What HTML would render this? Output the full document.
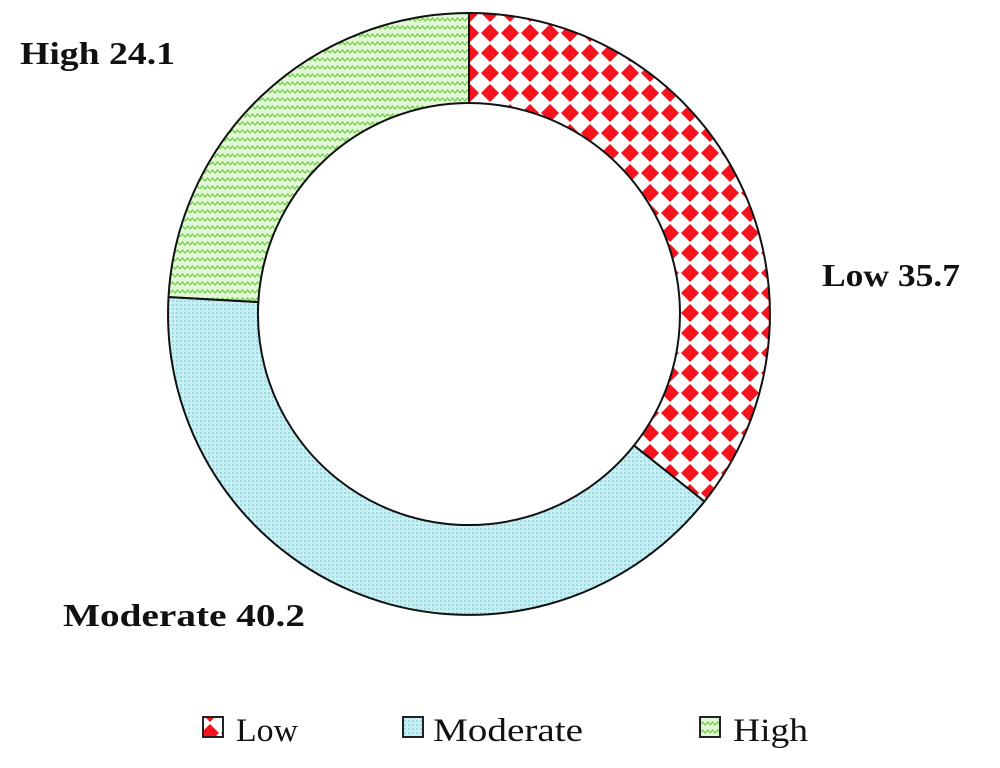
<!DOCTYPE html>
<html><head><meta charset="utf-8"><style>
body{margin:0;background:#fff;width:1000px;height:768px;overflow:hidden}
svg{display:block}
.lab{font-family:"Liberation Serif",serif;font-weight:bold;font-size:32px;fill:#111}
.leg{font-family:"Liberation Serif",serif;font-size:33px;fill:#111}
</style></head><body>
<svg width="1000" height="768" viewBox="0 0 1000 768">
<defs>
<pattern id="pr" width="20" height="20" patternUnits="userSpaceOnUse" x="0" y="3">
<rect width="20" height="20" fill="#fff"/>
<polygon points="10,1 19,10 10,19 1,10" fill="#f5141e"/>
</pattern>
<pattern id="pm" width="4" height="4" patternUnits="userSpaceOnUse">
<rect width="4" height="4" fill="#c8f0f4"/>
<circle cx="1" cy="1" r="0.8" fill="#5cc5d0"/>
</pattern>
<pattern id="ph" width="10" height="8" patternUnits="userSpaceOnUse">
<rect width="10" height="8" fill="#e2f8d6"/>
<polyline points="0,5 2.5,2 5,5 7.5,2 10,5" fill="none" stroke="#6fd04a" stroke-width="1.3"/>
</pattern>
</defs>
<path d="M469,13 A301,301 0 0 1 704.4,501.5 L634,445.5 A211,211 0 0 0 469,103 Z" fill="url(#pr)" stroke="#111" stroke-width="2"/>
<path d="M704.4,501.5 A301,301 0 0 1 168.5,297 L258.3,302.1 A211,211 0 0 0 634,445.5 Z" fill="url(#pm)" stroke="#111" stroke-width="2"/>
<path d="M168.5,297 A301,301 0 0 1 469,13 L469,103 A211,211 0 0 0 258.3,302.1 Z" fill="url(#ph)" stroke="#111" stroke-width="2"/>
<text class="lab" x="20" y="64" textLength="155" lengthAdjust="spacingAndGlyphs">High 24.1</text>
<text class="lab" x="822" y="286" textLength="138" lengthAdjust="spacingAndGlyphs">Low 35.7</text>
<text class="lab" x="63" y="626" textLength="242" lengthAdjust="spacingAndGlyphs">Moderate 40.2</text>
<rect x="203" y="717" width="20" height="20" fill="url(#pr)" stroke="#222" stroke-width="2"/>
<text class="leg" x="236" y="741" textLength="62" lengthAdjust="spacingAndGlyphs">Low</text>
<rect x="403" y="717" width="20" height="20" fill="url(#pm)" stroke="#222" stroke-width="2"/>
<text class="leg" x="433" y="741" textLength="150" lengthAdjust="spacingAndGlyphs">Moderate</text>
<rect x="700" y="717" width="20" height="20" fill="url(#ph)" stroke="#222" stroke-width="2"/>
<text class="leg" x="733" y="741" textLength="75" lengthAdjust="spacingAndGlyphs">High</text>
</svg>
</body></html>
